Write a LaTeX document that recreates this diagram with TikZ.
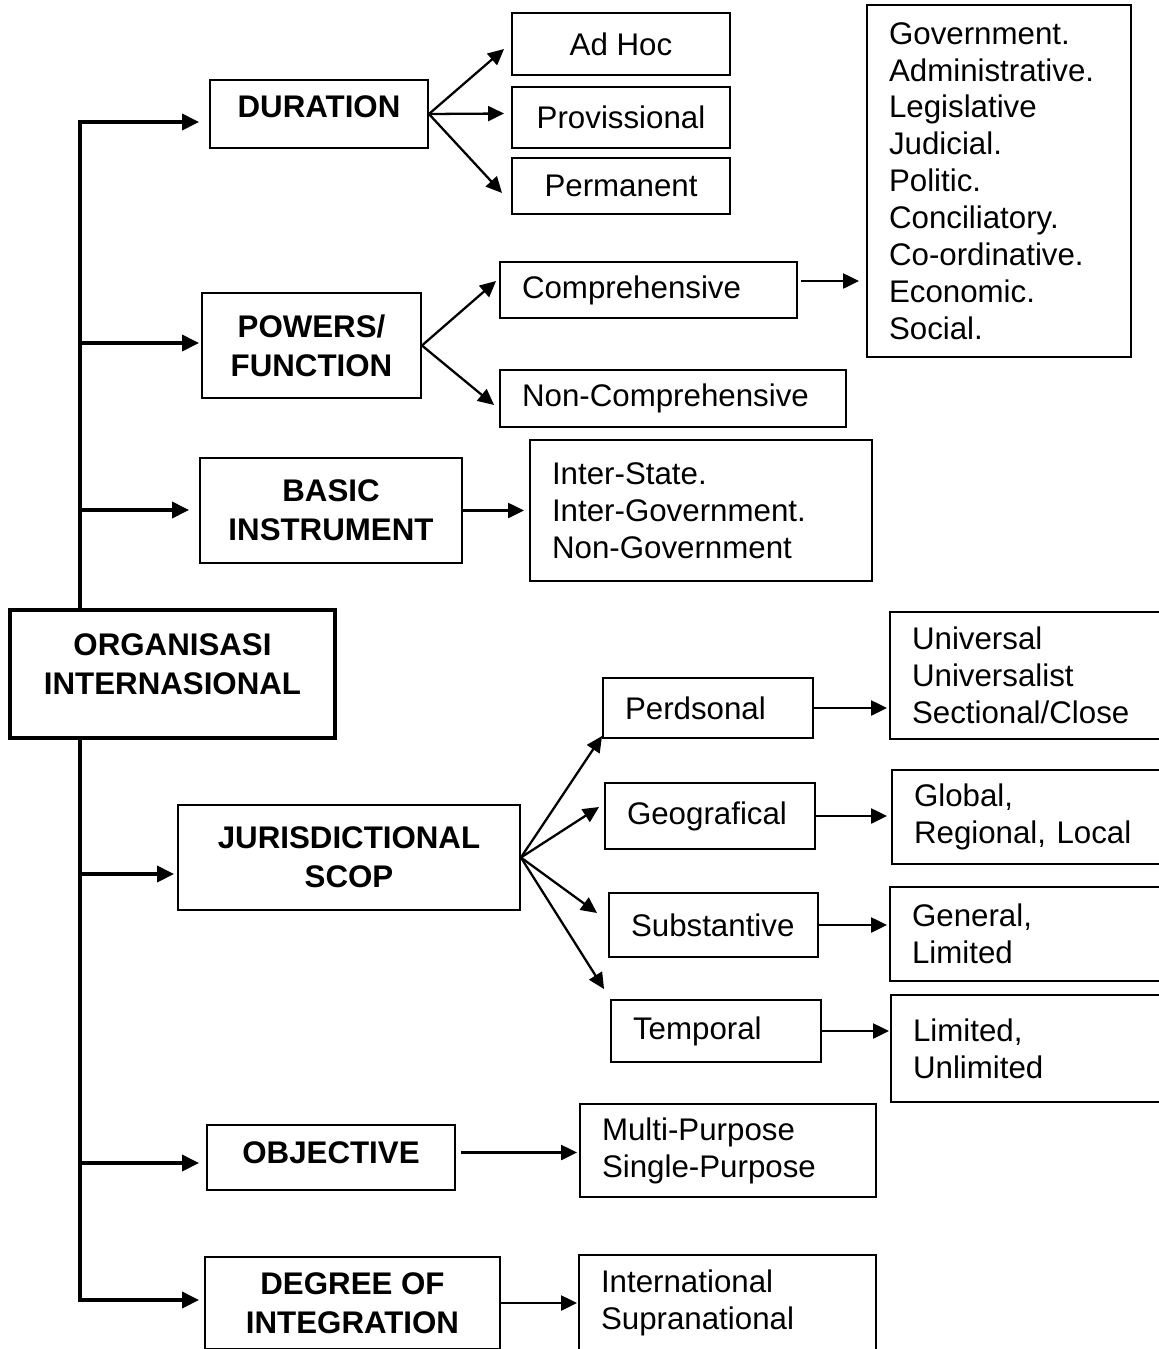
\documentclass[tikz,border=0pt]{standalone}
\usepackage{fontspec}
\setmainfont{Liberation Sans}
\usetikzlibrary{arrows.meta}
\usetikzlibrary{calc}
\newcommand{\plainfont}{\fontsize{17.8pt}{21pt}\selectfont}
\newcommand{\headfont}{\bfseries\fontsize{17.8pt}{22.2pt}\selectfont}
\tikzstyle{topic}=[draw, line width=1.1pt, inner sep=0pt, align=center, font=\headfont]
\tikzstyle{choice}=[draw, line width=1.1pt, inner sep=0pt, align=center, font=\plainfont]
\tikzstyle{itembox}=[draw, line width=1.1pt, inner ysep=0pt, inner xsep=0.44cm, align=left, font=\plainfont]
\tikzstyle{spine}=[line width=2.8pt, line cap=rect]
\tikzstyle{branch}=[-{Triangle[length=0.34cm, width=0.32cm]}, line width=2pt]
\tikzstyle{link}=[-{Triangle[length=0.32cm, width=0.3cm]}, line width=1.3pt]

\begin{document}
\begin{tikzpicture}[x=0.02cm, y=-0.02cm]
    \useasboundingbox (0,0) rectangle (1159,1349);

    \node[topic, line width=2.8pt, minimum width=6.5cm, text height=1.68cm, text depth=0.88cm] (org) at (172.5,674) {ORGANISASI\\INTERNASIONAL};

    \node[topic, minimum width=4.36cm, text height=0.74cm, text depth=0.62cm] (duration)  at (319,114)    {DURATION};
    \node[topic, minimum width=4.38cm, minimum height=2.1cm]                  (powers)    at (311.5,345.5) {POWERS/\\FUNCTION};
    \node[topic, minimum width=5.24cm, minimum height=2.1cm]                  (basic)     at (331,510.5)  {BASIC\\INSTRUMENT};
    \node[topic, minimum width=6.84cm, minimum height=2.1cm]                  (juris)     at (349,857.5)  {JURISDICTIONAL\\SCOP};
    \node[topic, minimum width=4.96cm, text height=0.76cm, text depth=0.54cm] (objective) at (331,1157.5) {OBJECTIVE};
    \node[topic, minimum width=5.9cm, minimum height=1.84cm]                  (degree)    at (352.5,1303) {DEGREE OF\\INTEGRATION};

    % duration
    \node[choice, minimum width=4.36cm, minimum height=1.24cm] (adhoc) at (621,44)    {Ad Hoc};
    \node[choice, minimum width=4.36cm, minimum height=1.22cm] (prov)  at (621,117.5) {Provissional};
    \node[choice, minimum width=4.36cm, minimum height=1.12cm] (perm)  at (621,186)   {Permanent};

    % powers / function
    \node[itembox, text width=5.06cm, minimum height=1.12cm] (compr)    at (648.5,290) {Comprehensive};
    \node[itembox, text width=6.04cm, minimum height=1.14cm] (noncompr) at (673,398.5) {Non-Comprehensive};
    \node[itembox, text width=4.4cm, minimum height=7.04cm]  (funcs)    at (999,181)   {Government.\\Administrative.\\Legislative\\Judicial.\\Politic.\\Conciliatory.\\Co-ordinative.\\Economic.\\Social.};

    % basic instrument
    \node[itembox, text width=5.96cm, minimum height=2.82cm] (inter) at (701,510.5) {Inter-State.\\Inter-Government.\\Non-Government};

    % jurisdictional scop
    \node[itembox, text width=3.32cm, minimum height=1.2cm]  (perd)  at (708,708)    {Perdsonal};
    \node[itembox, text width=3.32cm, minimum height=1.32cm] (geo)   at (710,816)    {Geografical};
    \node[itembox, text width=3.3cm, minimum height=1.28cm]  (subst) at (713.5,925)  {Substantive};
    \node[itembox, text width=3.32cm, minimum height=1.24cm] (temp)  at (716,1031)   {Temporal};
    \node[itembox, text width=4.72cm, minimum height=2.54cm] (univ)    at (1030,675.5)  {Universal\\Universalist\\Sectional/Close};
    \node[itembox, text width=4.68cm, minimum height=1.88cm] (global)  at (1031,817)    {Global,\\Regional, Local};
    \node[itembox, text width=4.72cm, minimum height=1.88cm] (general) at (1030,934)    {General,\\Limited};
    \node[itembox, text width=4.7cm, minimum height=2.14cm]  (limited) at (1030.5,1048.5) {Limited,\\Unlimited};

    % objective, degree of integration
    \node[itembox, text width=5.04cm, minimum height=1.86cm] (multi) at (728,1150.5) {Multi-Purpose\\Single-Purpose};
    \node[itembox, text width=5.06cm, minimum height=1.92cm] (intl)  at (727.5,1303) {International\\Supranational};

    % spine
    \coordinate (j1) at (80,122);
    \coordinate (j2) at (80,343);
    \coordinate (j3) at (80,510);
    \coordinate (j4) at (80,874);
    \coordinate (j5) at (80,1163);
    \coordinate (j6) at (80,1300);
    \draw[spine] (org.north -| j1) -- (j1);
    \draw[spine] (org.south -| j6) -- (j6);
    \draw[branch, shorten >=0.2cm]  (j1) -- (j1 -| duration.west);
    \draw[branch, shorten >=0.04cm] (j2) -- (j2 -| powers.west);
    \draw[branch, shorten >=0.2cm]  (j3) -- (j3 -| basic.west);
    \draw[branch, shorten >=0.06cm] (j4) -- (j4 -| juris.west);
    \draw[branch, shorten >=0.14cm] (j5) -- (j5 -| objective.west);
    \draw[branch, shorten >=0.1cm]  (j6) -- (j6 -| degree.west);

    \draw[link] (duration.east) -- ($(adhoc.west)+(-7,5)$);
    \draw[link] (duration.east) -- ($(prov.west)+(-7,-4)$);
    \draw[link] (duration.east) -- ($(perm.west)+(-9,7)$);

    \draw[link] (powers.east) -- ($(compr.west)+(-3,-9)$);
    \draw[link] (powers.east) -- ($(noncompr.west)+(-5,6.5)$);
    \draw[link] ($(compr.east)+(3,-9)$) -- ($(compr.east -| funcs.west)+(-7,-9)$);

    \draw[link, shorten >=0.1cm] (basic.east) -- (inter.west);

    \draw[link] (juris.east) -- ($(perd.south west)+(0,-3)$);
    \draw[link] (juris.east) -- ($(geo.west)+(-5,-9)$);
    \draw[link] (juris.east) -- ($(subst.west)+(-11,-12)$);
    \draw[link] (juris.east) -- ($(temp.north west)+(-6,-10)$);
    \draw[link] (perd.east)  -- ($(perd.east -| univ.west)+(-2,0)$);
    \draw[link] (geo.east)   -- ($(geo.east -| global.west)+(-4,0)$);
    \draw[link] (subst.east) -- ($(subst.east -| general.west)+(-2,0)$);
    \draw[link] (temp.east)  -- ($(temp.east -| limited.west)+(-1,0)$);

    \draw[link] ($(objective.east)+(5,-5)$) -- ($(objective.east -| multi.west)+(-2,-5)$);
    \draw[link] (degree.east) -- ($(degree.east -| intl.west)+(-1,0)$);
\end{tikzpicture}
\end{document}
